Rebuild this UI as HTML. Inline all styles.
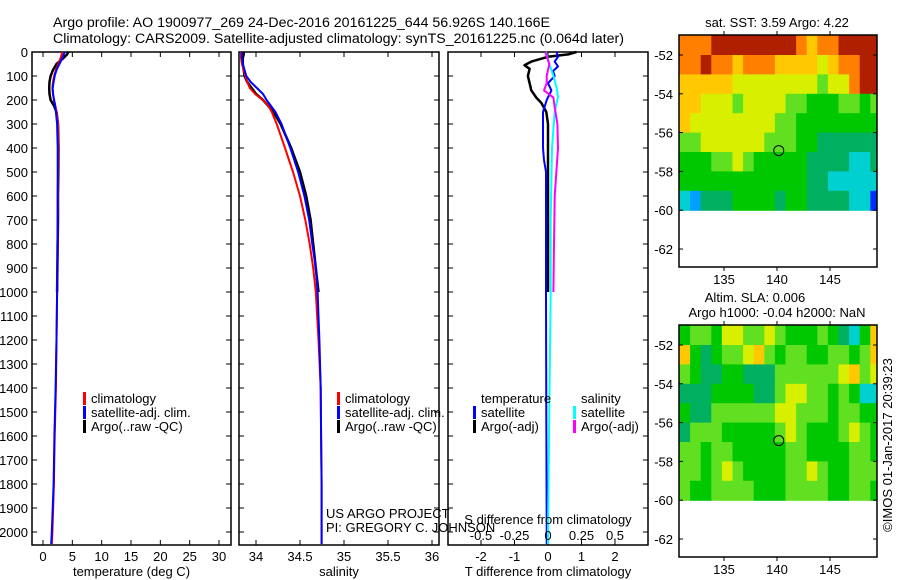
<!DOCTYPE html>
<html><head><meta charset="utf-8">
<style>
html,body{margin:0;padding:0;background:#fff;}
svg{display:block;font-family:"Liberation Sans",sans-serif;}
text{fill:#000;}
</style></head>
<body>
<svg id="fig" width="900" height="580" viewBox="0 0 900 580" xmlns="http://www.w3.org/2000/svg">
<text x="53" y="27" font-size="14.2">Argo profile: AO 1900977_269 24-Dec-2016 20161225_644 56.926S 140.166E</text>
<text x="53" y="43" font-size="14.2">Climatology: CARS2009. Satellite-adjusted climatology: synTS_20161225.nc (0.064d later)</text>
<g id="p1"></g>
<g id="p2"></g>
<g id="p3"></g>
<g id="m1"></g>
<g id="m2"></g>
<text transform="translate(892,445) rotate(-90)" text-anchor="middle" font-size="13">©IMOS 01-Jan-2017 20:39:23</text>
</svg>
<script>
// ---------- data ----------
const depthClim = [0,25,50,75,100,125,150,175,200,225,250,300,400,500,600,700,800,900,1000,1200,1400,1600,1800,2000,2050];
const tempClim  = [3.3,3.0,2.6,2.2,1.9,1.7,1.6,1.7,1.85,2.1,2.3,2.55,2.6,2.55,2.55,2.5,2.5,2.45,2.4,2.3,2.2,2.0,1.85,1.6,1.5];
const tempSat   = [3.7,3.3,2.8,2.3,2.0,1.8,1.65,1.7,1.9,2.1,2.2,2.4,2.5,2.5,2.5,2.5,2.45,2.45,2.4,2.3,2.15,1.95,1.8,1.5,1.4];
const salClim   = [33.83,33.83,33.84,33.86,33.88,33.9,33.93,33.99,34.08,34.14,34.18,34.235,34.33,34.42,34.5,34.56,34.61,34.65,34.68,34.71,34.735,34.74,34.745,34.745,34.745];
const salSat    = [33.84,33.84,33.85,33.87,33.89,33.94,34.01,34.08,34.12,34.17,34.22,34.29,34.39,34.48,34.55,34.605,34.64,34.68,34.70,34.72,34.735,34.74,34.745,34.745,34.745];
const depthArgo = [0,10,25,50,75,100,125,150,175,200,225,250,300,400,500,600,700,800,900,1000];
const tempArgo  = [4.3,4.1,3.5,2.3,1.7,1.3,1.1,1.05,1.1,1.3,1.9,2.3,2.55,2.65,2.6,2.55,2.55,2.5,2.45,2.4];
const salArgo   = [33.86,33.86,33.85,33.85,33.86,33.87,33.9,33.95,34.0,34.08,34.14,34.2,34.28,34.4,34.5,34.57,34.62,34.65,34.68,34.71];
const dTsatDepth = [0,20,40,60,80,100,130,160,200,250,300,400,450,500,700,1000,1500,2000,2050];
const dTsat      = [0.26,0.3,0.2,0.3,0.15,0.2,0.0,0.1,-0.04,-0.15,-0.15,-0.15,-0.12,-0.06,-0.06,-0.06,-0.05,-0.04,-0.04];
const dTargoDepth = [0,10,20,40,55,70,100,130,160,190,212,250,300,400,600,800,1000];
const dTargo      = [0.85,0.6,0.0,-0.5,-0.7,-0.55,-0.6,-0.55,-0.5,-0.35,-0.2,-0.05,0.0,0.0,0.0,0.0,0.0];
const dSsatDepth = [0,50,100,150,187,250,400,700,1000,1500,2000,2050];
const dSsat      = [-0.015,0.01,0.04,0.065,0.075,0.05,0.03,0.02,0.02,0.01,0.0,0.0];
const dSargoDepth = [0,50,100,130,160,190,230,300,400,600,800,1000];
const dSargo      = [-0.02,0.01,-0.01,-0.01,-0.03,0.04,0.05,0.07,0.075,0.05,0.045,0.04];
const depthTicks = [0,100,200,300,400,500,600,700,800,900,1000,1100,1200,1300,1400,1500,1600,1700,1800,1900,2000];
const tempTicks = [0,5,10,15,20,25,30];
const salTicks = [34,34.5,35,35.5,36];
const salTickLabels = ["34","34.5","35","35.5","36"];
const dTTicks = [-2,-1,0,1,2];
const dSTicks = [-0.5,-0.25,0,0.25,0.5];
const dSTickLabels = ["-0.5","-0.25","0","0.25","0.5"];
const latTicks = [-52,-54,-56,-58,-60,-62];
const lonTicks = [135,140,145];
const argoLon = 140.166, argoLat = -56.926;
const sstGrid = [
[9,9,9,10,10,10,10,10,10,10,10,9,8,9,9,10,10,10,10],
[9,9,10,9,9,8,9,9,9,8,8,8,8,7,8,9,9,10,10],
[8,8,8,8,8,7,7,7,7,7,7,7,7,6,7,7,9,10,10],
[8,8,7,7,7,6,7,7,7,7,6,6,5,5,5,6,6,5,6],
[8,7,7,7,7,7,7,7,7,6,6,5,5,5,5,5,5,5,5],
[6,6,7,7,7,7,7,7,6,6,6,5,5,4,4,4,4,4,4],
[5,5,5,6,6,7,6,5,5,5,5,5,4,4,4,4,3,3,4],
[5,5,5,5,5,5,5,5,5,5,5,5,4,4,3,3,3,3,3],
[3,2,4,4,4,5,5,5,5,4,5,5,4,4,4,4,3,3,1]];
const slaGrid = [
[5,6,6,5,7,7,6,6,7,6,5,5,5,6,5,4,3,5,8],
[8,5,4,5,6,6,7,8,6,5,6,6,5,5,6,6,5,6,8],
[6,5,4,4,5,5,4,4,4,6,6,6,6,6,6,7,8,6,7],
[4,4,4,5,5,5,5,4,4,6,7,7,6,6,5,6,5,3,3],
[5,4,4,6,6,6,6,6,6,7,7,6,6,6,5,6,6,5,5],
[4,6,6,6,5,5,5,5,5,6,7,6,5,5,5,6,7,6,5],
[6,6,5,6,6,5,5,5,5,5,6,6,5,5,5,5,6,6,5],
[6,6,5,6,7,6,5,5,5,5,6,6,7,6,5,5,6,6,6],
[6,5,5,6,6,6,6,5,5,5,6,6,6,6,5,5,6,6,5]];
const palette = ["#000090","#0030ff","#00a0ff","#00d0d0","#00b060","#00c800","#60e020","#d8f000","#ffc800","#ff8000","#b02000"];

// ---------- helpers ----------
const NS="http://www.w3.org/2000/svg";
function mk(parent,tag,attrs,text){const e=document.createElementNS(NS,tag);for(const k in attrs)e.setAttribute(k,attrs[k]);if(text!==undefined)e.textContent=text;parent.appendChild(e);return e;}
const TOP=52, BOT=545;
const yD = d => 52 + d*0.24;

function panel(g,x0,x1,xs,ticksX,labelsX,xlabel,showDepth){
  const r=mk(g,'rect',{x:x0,y:TOP,width:x1-x0,height:BOT-TOP,fill:'none',stroke:'#000','stroke-width':1.5});
  
  
  depthTicks.forEach(d=>{
    mk(g,'line',{x1:x0,x2:x0+5,y1:yD(d),y2:yD(d),stroke:'#000'});
    mk(g,'line',{x1:x1,x2:x1-5,y1:yD(d),y2:yD(d),stroke:'#000'});
    if(showDepth){const t=mk(g,'text',{x:28,y:yD(d)+5,'text-anchor':'end','font-size':13},String(d));
      
      }
  });
  ticksX.forEach((v,i)=>{const x=xs(v);
    mk(g,'line',{x1:x,x2:x,y1:BOT,y2:BOT-5,stroke:'#000'});
    mk(g,'line',{x1:x,x2:x,y1:TOP,y2:TOP+5,stroke:'#000'});
    const t=mk(g,'text',{x:x,y:561,'text-anchor':'middle','font-size':13},labelsX[i]);
    
    
  });
  const t=mk(g,'text',{x:(x0+x1)/2,y:576,'text-anchor':'middle','font-size':13},xlabel);
  
  
}
function line(g,xs,depths,vals,color,w,name){
  const pts=depths.map((d,i)=>xs(vals[i]).toFixed(1)+','+yD(d).toFixed(1)).join(' ');
  const p=mk(g,'polyline',{points:pts,fill:'none',stroke:color,'stroke-width':w,'stroke-linejoin':'round'});
  
  
}
function legend(g,x,y,color,label){
  mk(g,'rect',{x:x,y:y-11,width:3,height:13,fill:color});
  const t=mk(g,'text',{x:x+8,y:y,'font-size':13},label);
  
  
}

// ---------- panel 1 ----------
const p1=document.getElementById('p1');
const xT = v => 43 + v*5.867;
panel(p1,32,231,xT,tempTicks,tempTicks.map(String),'temperature (deg C)',true);
line(p1,xT,depthArgo,tempArgo,'#000',2.5,'argo-temperature-line');
line(p1,xT,depthClim,tempClim,'#ff0000',2,'climatology-temperature-line');
line(p1,xT,depthClim,tempSat,'#0000ff',2,'satellite-temperature-line');
legend(p1,83,403,'#ff0000','climatology');
legend(p1,83,417,'#0000ff','satellite-adj. clim.');
legend(p1,83,431,'#000','Argo(..raw -QC)');

// ---------- panel 2 ----------
const p2=document.getElementById('p2');
const xS = v => 256 + (v-34)*88;
panel(p2,239,439,xS,salTicks,salTickLabels,'salinity',false);
line(p2,xS,depthArgo,salArgo,'#000',2.5,'argo-salinity-line');
line(p2,xS,depthClim,salClim,'#ff0000',2,'climatology-salinity-line');
line(p2,xS,depthClim,salSat,'#0000ff',2,'satellite-salinity-line');
legend(p2,337,403,'#ff0000','climatology');
legend(p2,337,417,'#0000ff','satellite-adj. clim.');
legend(p2,337,431,'#000','Argo(..raw -QC)');

// ---------- panel 3 ----------
const p3=document.getElementById('p3');
const xdT = v => 548 + v*33.5;
const xdS = v => 548 + v*134;
panel(p3,448,648,xdT,dTTicks,dTTicks.map(String),'T difference from climatology',false);
line(p3,xdT,dTargoDepth,dTargo,'#000',2.5,'argo-temperature-difference-line');
line(p3,xdT,dTsatDepth,dTsat,'#0000ff',2,'satellite-temperature-difference-line');
line(p3,xdS,dSsatDepth,dSsat,'#00ffff',2,'satellite-salinity-difference-line');
line(p3,xdS,dSargoDepth,dSargo,'#ff00ff',2,'argo-salinity-difference-line');
dSTicks.forEach((v,i)=>{const t=mk(p3,'text',{x:xdS(v),y:540,'text-anchor':'middle','font-size':13},dSTickLabels[i]);
  
  });
{const t=mk(p3,'text',{x:548,y:524,'text-anchor':'middle','font-size':13},'S difference from climatology');
 
 }
{const t=mk(p3,'text',{x:481,y:403,'font-size':13},'temperature');
 
 }
{const t=mk(p3,'text',{x:581,y:403,'font-size':13},'salinity');
 
 }
legend(p3,473,417,'#0000ff','satellite');
legend(p3,473,431,'#000','Argo(-adj)');
legend(p3,573,417,'#00ffff','satellite');
legend(p3,573,431,'#ff00ff','Argo(-adj)');
{const t=mk(p2,'text',{x:326,y:518,'font-size':13},'US ARGO PROJECT');
 
 
 const t2=mk(p2,'text',{x:326,y:532,'font-size':13},'PI: GREGORY C. JOHNSON');
 
 }

// ---------- maps ----------
function map(g,yoff,grid,titles,id){
  const bx0=679,bx1=877,by0=35+yoff,by1=267+yoff;
  const lonX = l => 777 + (l-140)*10.6;
  const latY = l => 55 + yoff + (-52-l)*19.4;
  const cp=mk(g,'clipPath',{id:id});
  mk(cp,'rect',{x:bx0,y:by0,width:bx1-bx0,height:by1-by0});
  const cg=mk(g,'g',{'clip-path':'url(#'+id+')'});
  grid.forEach((row,r)=>row.forEach((v,c)=>{
    const lo=130.8+c;
    const yTop = r===0 ? by0 : latY(-51-r);
    const cell=mk(cg,'rect',{x:lonX(lo).toFixed(1),y:yTop.toFixed(1),width:11.2,height:(latY(-52-r)-yTop+0.6).toFixed(1),fill:palette[v]});
    
    
  }));
  mk(g,'rect',{x:bx0,y:by0,width:bx1-bx0,height:by1-by0,fill:'none',stroke:'#000','stroke-width':1.5});
  latTicks.forEach(l=>{const y=latY(l);
    mk(g,'line',{x1:bx0,x2:bx0+4,y1:y,y2:y,stroke:'#000'});
    mk(g,'line',{x1:bx1,x2:bx1-4,y1:y,y2:y,stroke:'#000'});
    const t=mk(g,'text',{x:673,y:y+5,'text-anchor':'end','font-size':13},String(l));
    
    });
  lonTicks.forEach(l=>{const x=lonX(l);
    mk(g,'line',{x1:x,x2:x,y1:by0,y2:by0-4,stroke:'#000'});
    mk(g,'line',{x1:x,x2:x,y1:by1,y2:by1+4,stroke:'#000'});
    const t=mk(g,'text',{x:x,y:by1+17,'text-anchor':'middle','font-size':13},String(l));
    
    });
  const c=mk(g,'circle',{cx:lonX(argoLon),cy:latY(argoLat),r:5,fill:'none',stroke:'#000','stroke-width':1});
  
  
  titles.forEach(tt=>{const t=mk(g,'text',{x:tt[0],y:tt[1],'text-anchor':'middle','font-size':13},tt[2]);
    
    });
}
map(document.getElementById('m1'),0,sstGrid,[[777,27,'sat. SST: 3.59 Argo: 4.22']],'clip1');
map(document.getElementById('m2'),290,slaGrid,[[755,302,'Altim. SLA: 0.006'],[777,317,'Argo h1000: -0.04 h2000: NaN']],'clip2');
</script>
</body></html>
